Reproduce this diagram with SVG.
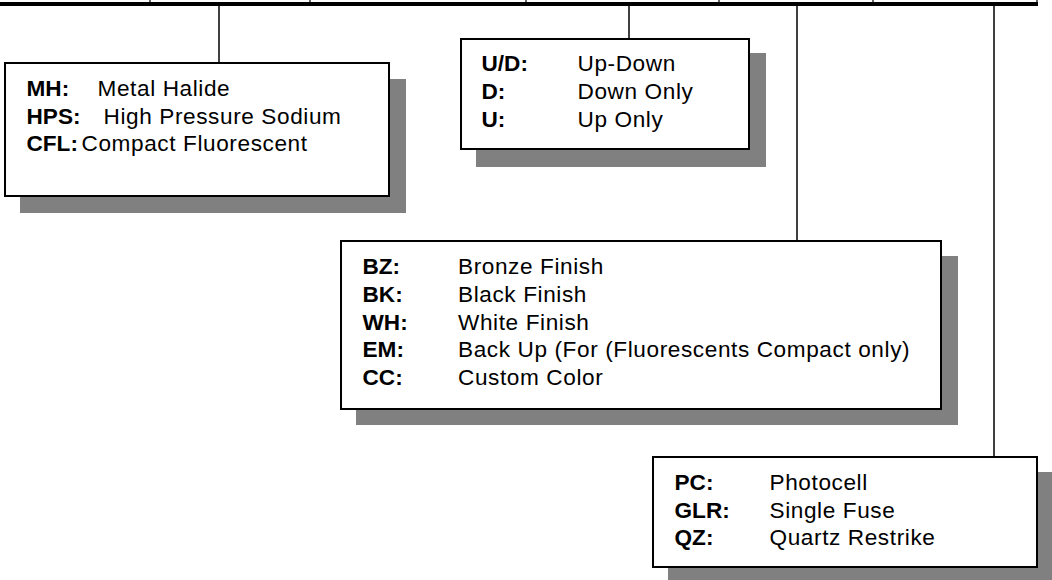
<svg xmlns="http://www.w3.org/2000/svg" width="1052" height="580" viewBox="0 0 1052 580">
<style>
.bg{fill:#ffffff}
.shadow{fill:#808080}
.box{fill:#ffffff;stroke:#000000;stroke-width:2}
.conn{stroke:#000000;stroke-width:1.5;fill:none}
.tick{stroke:#000000;stroke-width:1.2;fill:none}
.lbl{font-family:"Liberation Sans",Arial,sans-serif;font-size:22.6px;font-weight:bold;fill:#000000}
.val{font-family:"Liberation Sans",Arial,sans-serif;font-size:22.6px;letter-spacing:0.6px;fill:#000000}
</style>
<rect class="bg" x="0" y="0" width="1052" height="580"/>
<g id="connectors">
  <rect x="0" y="2" width="1038" height="4" fill="#000000"/>
  <line class="tick" x1="150" y1="0" x2="150" y2="3"/>
  <line class="tick" x1="310" y1="0" x2="310" y2="3"/>
  <line class="tick" x1="526" y1="0" x2="526" y2="3"/>
  <line class="tick" x1="719" y1="0" x2="719" y2="3"/>
  <line class="tick" x1="873" y1="0" x2="873" y2="3"/>
  <line class="tick" x1="1037" y1="0" x2="1037" y2="3"/>
  <line class="conn" x1="219" y1="6" x2="219" y2="63"/>
  <line class="conn" x1="629" y1="6" x2="629" y2="39"/>
  <line class="conn" x1="797" y1="6" x2="797" y2="241"/>
  <line class="conn" x1="994" y1="6" x2="994" y2="457"/>
</g>
<g id="lamp">
  <rect class="shadow" x="20" y="79" width="386" height="134"/>
  <rect class="box" x="5" y="63" width="384" height="133"/>
  <text class="lbl" x="26.5" y="96">MH:</text><text class="val" x="97.5" y="96">Metal Halide</text>
  <text class="lbl" x="26.5" y="123.5">HPS:</text><text class="val" x="103.5" y="123.5">High Pressure Sodium</text>
  <text class="lbl" x="26.5" y="151">CFL:</text><text class="val" x="81.5" y="151">Compact Fluorescent</text>
</g>
<g id="direction">
  <rect class="shadow" x="476" y="53" width="290" height="114"/>
  <rect class="box" x="461" y="39" width="288" height="110"/>
  <text class="lbl" x="481.5" y="71">U/D:</text><text class="val" x="577.5" y="71">Up-Down</text>
  <text class="lbl" x="481.5" y="99">D:</text><text class="val" x="577.5" y="99">Down Only</text>
  <text class="lbl" x="481.5" y="126.5">U:</text><text class="val" x="577.5" y="126.5">Up Only</text>
</g>
<g id="finish">
  <rect class="shadow" x="356" y="256" width="602" height="169"/>
  <rect class="box" x="341" y="241" width="600" height="168"/>
  <text class="lbl" x="362.5" y="274">BZ:</text><text class="val" x="458" y="274">Bronze Finish</text>
  <text class="lbl" x="362.5" y="301.5">BK:</text><text class="val" x="458" y="301.5">Black Finish</text>
  <text class="lbl" x="362.5" y="329.5">WH:</text><text class="val" x="458" y="329.5">White Finish</text>
  <text class="lbl" x="362.5" y="357">EM:</text><text class="val" x="458" y="357">Back Up (For (Fluorescents Compact only)</text>
  <text class="lbl" x="362.5" y="385">CC:</text><text class="val" x="458" y="385">Custom Color</text>
</g>
<g id="options">
  <rect class="shadow" x="668" y="472" width="386" height="108"/>
  <rect class="box" x="653" y="457" width="384" height="110"/>
  <text class="lbl" x="674.5" y="490">PC:</text><text class="val" x="769.5" y="490">Photocell</text>
  <text class="lbl" x="674.5" y="517.5">GLR:</text><text class="val" x="769.5" y="517.5">Single Fuse</text>
  <text class="lbl" x="674.5" y="545">QZ:</text><text class="val" x="769.5" y="545">Quartz Restrike</text>
</g>
</svg>
